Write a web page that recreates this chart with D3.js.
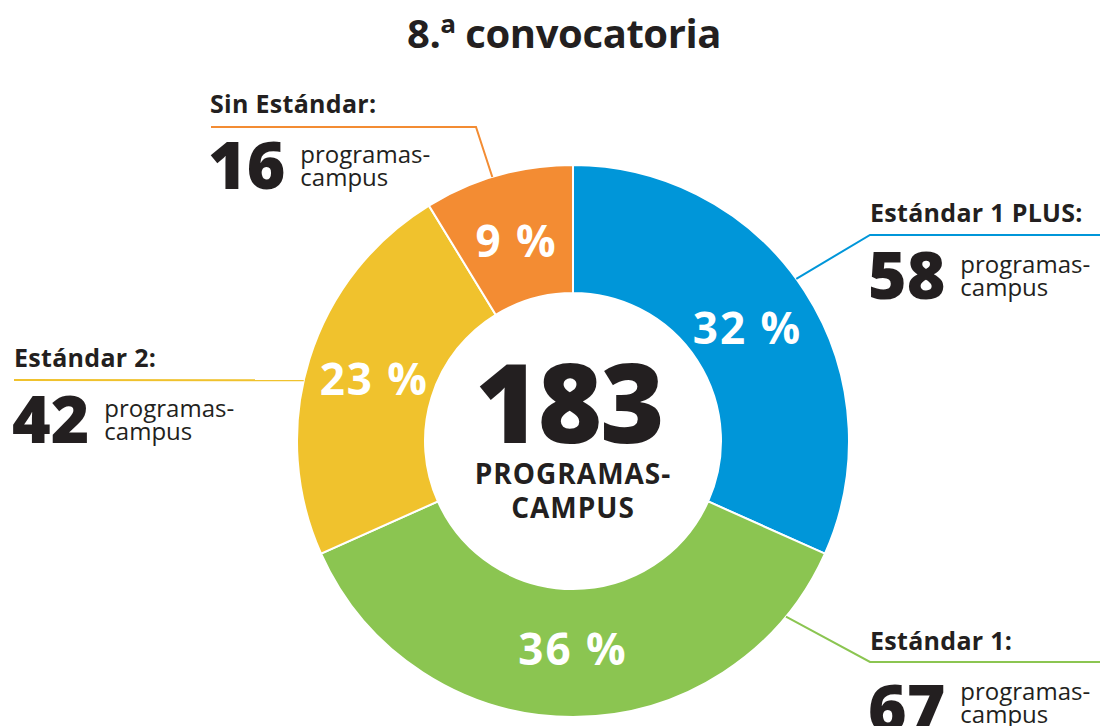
<!DOCTYPE html>
<html>
<head>
<meta charset="utf-8">
<script src="https://cdn.jsdelivr.net/npm/d3@7"></script>
<style>
  html, body { margin: 0; padding: 0; background: #fff; }
  svg { display: block; font-family: "Open Sans", "Noto Sans", sans-serif; }
</style>
</head>
<body>
<svg id="chart" width="1119" height="726"></svg>
<script>
// ── Data ──────────────────────────────────────────────────────────────────────
const categories = ["Estándar 1 PLUS", "Estándar 1", "Estándar 2", "Sin Estándar"];
const counts = [58, 67, 42, 16];
const percentLabels = ["32 %", "36 %", "23 %", "9 %"];
const sliceColors = ["#0096d9", "#8bc551", "#f0c22d", "#f38c33"];
const title = "8.ª convocatoria";
const unitLabel = ["programas-", "campus"];
const centerLabel = ["PROGRAMAS-", "CAMPUS"];

const total = d3.sum(counts);
const ink = "#231f20";

// ── Layout ────────────────────────────────────────────────────────────────────
const cx = 573, cy = 441;
const outerR = 276, innerR = 148;

// callout placement per category (label block + leader line anchor on the arc)
const callouts = [
  { x: 870, titleY: 222, lineY: 235, lineEnd: 1100, elbowX: 870, anchorDeg: 54, numY: 299, unitY: 273 },
  { x: 870, titleY: 650, lineY: 662, lineEnd: 1100, elbowX: 870, anchorDeg: 129.5, numY: 732, unitY: 700 },
  { x: 14, titleY: 367, lineY: 380, lineEnd: 14, elbowX: null, anchorDeg: 282.7, numY: 443, unitY: 417 },
  { x: 210, titleY: 113, lineY: 127, lineEnd: 211, elbowX: 476, anchorDeg: 343, numY: 189, unitY: 163 },
];

const svg = d3.select("#chart");

svg.append("text")
  .attr("x", 564).attr("y", 48)
  .attr("text-anchor", "middle")
  .attr("font-size", 40).attr("font-weight", 700)
  .attr("letter-spacing", -0.4)
  .attr("fill", ink)
  .text(title);

// ── Donut ─────────────────────────────────────────────────────────────────────
const pie = d3.pie().sort(null).value((d) => d.value);
const arcs = pie(categories.map((c, i) => ({ name: c, value: counts[i], i })));
const arc = d3.arc().innerRadius(innerR).outerRadius(outerR);
const labelArc = d3.arc().innerRadius(208).outerRadius(208);

const g = svg.append("g").attr("transform", `translate(${cx},${cy})`);

g.selectAll("path.slice")
  .data(arcs)
  .join("path")
  .attr("class", "slice")
  .attr("d", arc)
  .attr("fill", (d) => sliceColors[d.data.i])
  .attr("stroke", "#fff")
  .attr("stroke-width", 2);

g.selectAll("text.pct")
  .data(arcs)
  .join("text")
  .attr("class", "pct")
  .attr("transform", (d) => `translate(${labelArc.centroid(d)})`)
  .attr("text-anchor", "middle")
  .attr("dy", "0.36em")
  .attr("font-size", 44).attr("font-weight", 700)
  .attr("letter-spacing", 2)
  .attr("fill", "#fff")
  .text((d) => percentLabels[d.data.i]);

// center total
g.append("text")
  .attr("x", -4).attr("y", 2).attr("text-anchor", "middle")
  .attr("font-size", 110).attr("font-weight", 800)
  .attr("fill", ink).attr("letter-spacing", -2)
  .text(total);
centerLabel.forEach((t, k) => {
  g.append("text")
    .attr("y", 43 + k * 34).attr("text-anchor", "middle")
    .attr("font-size", 28).attr("font-weight", 700)
    .attr("letter-spacing", 1)
    .attr("fill", ink)
    .text(t);
});

// ── Callouts ──────────────────────────────────────────────────────────────────
categories.forEach((name, i) => {
  const c = callouts[i];
  const col = sliceColors[i];
  const a = (c.anchorDeg * Math.PI) / 180;
  const ax = cx + outerR * Math.sin(a);
  const ay = cy - outerR * Math.cos(a);

  const pts = [[c.lineEnd, c.lineY]];
  if (c.elbowX !== null) pts.push([c.elbowX, c.lineY]);
  pts.push([ax, ay]);

  svg.append("path")
    .attr("d", d3.line()(pts))
    .attr("fill", "none")
    .attr("stroke", col)
    .attr("stroke-width", 2);

  svg.append("text")
    .attr("x", c.x).attr("y", c.titleY)
    .attr("font-size", 25).attr("font-weight", 700)
    .attr("letter-spacing", 0.3)
    .attr("fill", ink)
    .text(name + ":");

  const num = svg.append("text")
    .attr("x", c.x - 2).attr("y", c.numY)
    .attr("font-size", 66).attr("font-weight", 800)
    .attr("fill", ink)
    .text(counts[i]);
  const w = num.node().getComputedTextLength();

  unitLabel.forEach((t, k) => {
    svg.append("text")
      .attr("x", c.x + w + 13).attr("y", c.unitY + k * 23)
      .attr("font-size", 24).attr("font-weight", 400)
      .attr("fill", ink)
      .text(t);
  });
});
</script>
</body>
</html>
